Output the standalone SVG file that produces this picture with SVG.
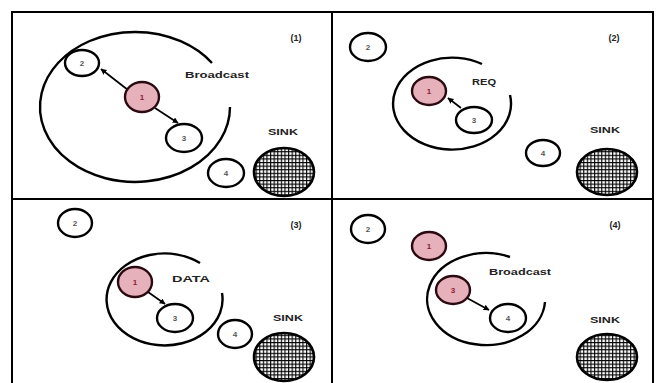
<svg xmlns="http://www.w3.org/2000/svg" width="658" height="383" viewBox="0 0 658 383">
<defs>
<pattern id="grid" width="3.6" height="3.6" patternUnits="userSpaceOnUse">
<rect width="3.6" height="3.6" fill="#fff"/>
<path d="M0,0.6H3.6M0.6,0V3.6" stroke="#000" stroke-width="1.1"/>
</pattern>
<marker id="ah" viewBox="0 0 10 10" refX="9" refY="5" markerWidth="6" markerHeight="6" orient="auto" markerUnits="userSpaceOnUse">
<path d="M0,0L10,5L0,10z" fill="#000"/>
</marker>
</defs>
<style>
.frame{fill:none;stroke:#000;stroke-width:2}
.arc{fill:none;stroke:#000;stroke-width:2.4}
.n{fill:#fff;stroke:#000;stroke-width:2.4}
.p{fill:#e6b1bb;stroke:#2a0a10;stroke-width:2.4}
.sink{fill:url(#grid);stroke:#000;stroke-width:2.6}
.nl{font-family:"Liberation Sans",Arial,sans-serif;font-size:8px;font-weight:bold;fill:#555;text-anchor:middle}
.pl{font-family:"Liberation Sans",Arial,sans-serif;font-size:8px;font-weight:bold;fill:#8a2030;text-anchor:middle}
.t{font-family:"Liberation Sans",Arial,sans-serif;font-size:9px;font-weight:bold;fill:#222;text-anchor:middle}
.c{stroke:#000;stroke-width:1.7;fill:none;marker-end:url(#ah)}
</style>
<rect width="658" height="383" fill="#fff"/>
<g id="frame">
<rect class="frame" x="12" y="12" width="641" height="380"/>
<line class="frame" x1="332" y1="12" x2="332" y2="383"/>
<line class="frame" x1="12" y1="199" x2="653" y2="199"/>
</g>
<g id="ranges">
<path class="arc" d="M212,63 A95,75 0 1 0 230,107"/>
<path class="arc" d="M482,64 A59,46 0 1 0 510,95"/>
<path class="arc" d="M200,263 A58,46 0 1 0 222,293"/>
<path class="arc" d="M510,257 A59,46 0 1 0 545,302"/>
</g>
<g id="connectors">
<line class="c" x1="128" y1="90" x2="101" y2="69"/>
<line class="c" x1="155" y1="108" x2="178" y2="123"/>
<line class="c" x1="461" y1="108" x2="448" y2="98"/>
<line class="c" x1="148" y1="292" x2="165" y2="304"/>
<line class="c" x1="467" y1="298" x2="489" y2="310"/>
</g>
<g id="panel1">
<text class="t" x="296" y="41">(1)</text>
<text class="t" x="217" y="78" textLength="64" lengthAdjust="spacingAndGlyphs">Broadcast</text>
<text class="t" x="283" y="135" textLength="30" lengthAdjust="spacingAndGlyphs">SINK</text>
<g id="p1-n2"><ellipse class="n" cx="82" cy="63" rx="17" ry="13"/><text class="nl" x="82" y="66">2</text></g>
<g id="p1-n1"><ellipse class="p" cx="142" cy="97" rx="17" ry="15"/><text class="pl" x="142" y="100">1</text></g>
<g id="p1-n3"><ellipse class="n" cx="184" cy="138" rx="18" ry="14"/><text class="nl" x="184" y="141">3</text></g>
<g id="p1-n4"><ellipse class="n" cx="226" cy="173" rx="18" ry="14"/><text class="nl" x="226" y="176">4</text></g>
<g id="p1-sink"><ellipse class="sink" cx="284" cy="172" rx="30" ry="24"/></g>
</g>
<g id="panel2">
<text class="t" x="614" y="41">(2)</text>
<text class="t" x="484" y="85" textLength="24" lengthAdjust="spacingAndGlyphs">REQ</text>
<text class="t" x="605" y="133" textLength="30" lengthAdjust="spacingAndGlyphs">SINK</text>
<g id="p2-n2"><ellipse class="n" cx="368" cy="47" rx="18" ry="14"/><text class="nl" x="368" y="50">2</text></g>
<g id="p2-n1"><ellipse class="p" cx="429" cy="91" rx="17" ry="14"/><text class="pl" x="429" y="94">1</text></g>
<g id="p2-n3"><ellipse class="n" cx="474" cy="120" rx="18" ry="13"/><text class="nl" x="474" y="123">3</text></g>
<g id="p2-n4"><ellipse class="n" cx="543" cy="153" rx="17" ry="13"/><text class="nl" x="543" y="156">4</text></g>
<g id="p2-sink"><ellipse class="sink" cx="607" cy="172" rx="30" ry="23"/></g>
</g>
<g id="panel3">
<text class="t" x="296" y="228">(3)</text>
<text class="t" x="191" y="282" textLength="38" lengthAdjust="spacingAndGlyphs">DATA</text>
<text class="t" x="288" y="321" textLength="30" lengthAdjust="spacingAndGlyphs">SINK</text>
<g id="p3-n2"><ellipse class="n" cx="75" cy="223" rx="17" ry="14"/><text class="nl" x="75" y="226">2</text></g>
<g id="p3-n1"><ellipse class="p" cx="135" cy="282" rx="17" ry="15"/><text class="pl" x="135" y="285">1</text></g>
<g id="p3-n3"><ellipse class="n" cx="175" cy="318" rx="18" ry="14"/><text class="nl" x="175" y="321">3</text></g>
<g id="p3-n4"><ellipse class="n" cx="235" cy="334" rx="17" ry="14"/><text class="nl" x="235" y="337">4</text></g>
<g id="p3-sink"><ellipse class="sink" cx="284" cy="357" rx="30" ry="24"/></g>
</g>
<g id="panel4">
<text class="t" x="615" y="228">(4)</text>
<text class="t" x="520" y="275" textLength="62" lengthAdjust="spacingAndGlyphs">Broadcast</text>
<text class="t" x="605" y="323" textLength="30" lengthAdjust="spacingAndGlyphs">SINK</text>
<g id="p4-n2"><ellipse class="n" cx="368" cy="229" rx="17" ry="14"/><text class="nl" x="368" y="232">2</text></g>
<g id="p4-n1"><ellipse class="p" cx="429" cy="246" rx="17" ry="14"/><text class="pl" x="429" y="249">1</text></g>
<g id="p4-n3"><ellipse class="p" cx="453" cy="290" rx="17" ry="14"/><text class="pl" x="453" y="293">3</text></g>
<g id="p4-n4"><ellipse class="n" cx="508" cy="318" rx="18" ry="14"/><text class="nl" x="508" y="321">4</text></g>
<g id="p4-sink"><ellipse class="sink" cx="607" cy="357" rx="30" ry="23"/></g>
</g>
</svg>
